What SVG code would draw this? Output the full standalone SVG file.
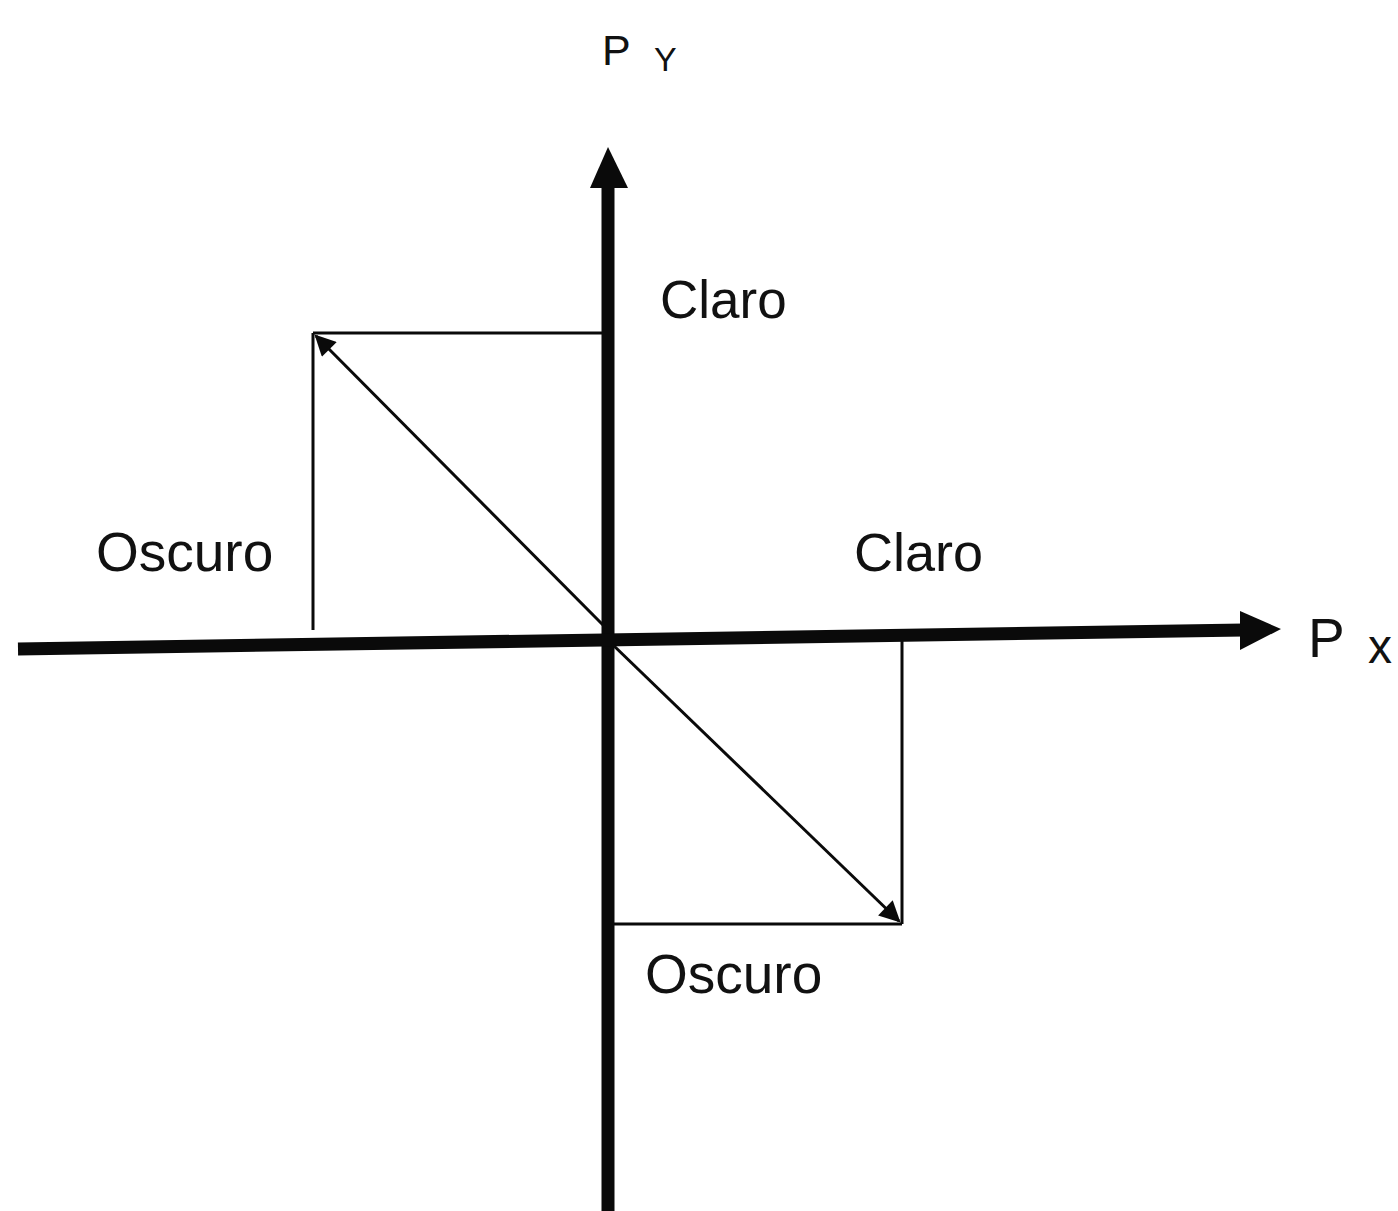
<svg xmlns="http://www.w3.org/2000/svg" width="1398" height="1211" viewBox="0 0 1398 1211">
<defs>
<style>
.lbl{font-family:"Liberation Sans",Arial,sans-serif;fill:#111;}
.axis{stroke:#0a0a0a;stroke-width:13;fill:none;}
.thin{stroke:#0a0a0a;stroke-width:3;fill:none;}
</style>
<marker id="sm" viewBox="0 0 10 10" refX="9" refY="5" markerWidth="8" markerHeight="7" markerUnits="strokeWidth" orient="auto">
<path d="M0,0 L10,5 L0,10 z" fill="#0a0a0a"/>
</marker>
</defs>
<rect width="1398" height="1211" fill="#fff"/>
<g id="axes">
<g id="axis-y">
<line class="axis" x1="608" y1="1211" x2="608" y2="185"/>
<polygon points="608,147 590,188 628,188" fill="#0a0a0a"/>
<text class="lbl" x="602" y="65" font-size="43">P</text>
<text class="lbl" x="654" y="71" font-size="34">Y</text>
</g>
<g id="axis-x">
<line class="axis" x1="18" y1="649" x2="1244" y2="630"/>
<polygon points="1281,629 1240,611 1240,650" fill="#0a0a0a"/>
<text class="lbl" x="1308" y="657" font-size="55">P</text>
<text class="lbl" x="1368" y="663" font-size="48">x</text>
</g>
</g>
<g id="connectors">
<line class="thin" x1="313" y1="333" x2="604" y2="333"/>
<line class="thin" x1="313" y1="333" x2="313" y2="630"/>
<line class="thin" x1="606" y1="628" x2="316" y2="336" marker-end="url(#sm)"/>
<line class="thin" x1="902" y1="636" x2="902" y2="924"/>
<line class="thin" x1="614" y1="924" x2="902" y2="924"/>
<line class="thin" x1="612" y1="644" x2="899" y2="921" marker-end="url(#sm)"/>
</g>
<g id="labels">
<text class="lbl" x="660" y="318" font-size="53">Claro</text>
<text class="lbl" x="96" y="571" font-size="55">Oscuro</text>
<text class="lbl" x="854" y="571" font-size="54">Claro</text>
<text class="lbl" x="645" y="993" font-size="55">Oscuro</text>
</g>
</svg>
